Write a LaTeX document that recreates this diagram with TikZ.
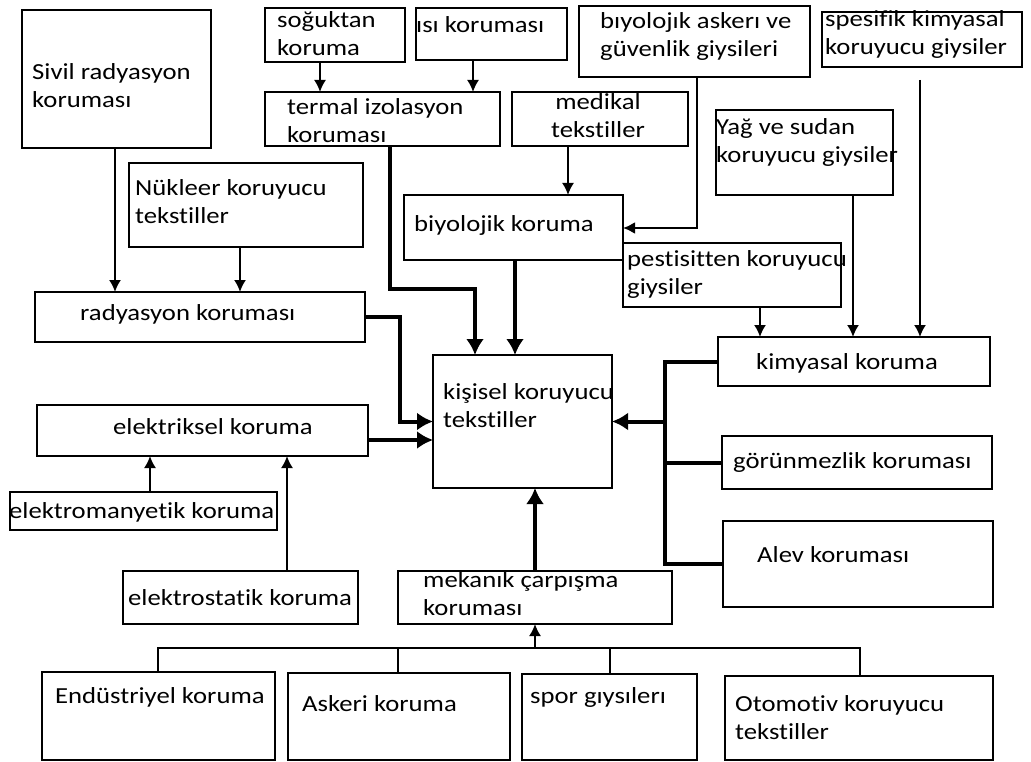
\documentclass[tikz,border=0pt]{standalone}
\usepackage{fontspec}
\setmainfont{Carlito}[FakeStretch=1.16, Ligatures=NoCommon]
\usetikzlibrary{arrows.meta,calc}
\newcommand{\bx}[5]{\node[box, minimum width={(#4-#2)*1pt}, minimum height={(#5-#3)*1pt}] (#1) at (#2,#3) {};}
\begin{document}
\begin{tikzpicture}[x=1pt,y=-1pt,
 box/.style={draw, line width=1.4pt, inner sep=0pt, outer sep=0pt, anchor=north west},
 txt/.style={inner sep=0pt, align=left, anchor=west, font=\fontsize{23}{28}\selectfont},
 arr/.style={line width=1.8pt, -{Latex[length=12pt,width=12pt]}},
 tarr/.style={line width=4pt, -{Latex[length=16pt,width=18pt]}},
 tline/.style={line width=4pt},
 bline/.style={line width=2.5pt}]
\useasboundingbox[fill=white] (0,0) rectangle (1031,762);
% boxes
\bx{sivil}{22}{10}{211}{148}
\bx{sog}{265}{8}{405}{62}
\bx{isi}{416}{8}{567}{60}
\bx{term}{265}{92}{500}{146}
\bx{med}{512}{92}{688}{146}
\bx{bask}{579}{6}{810}{77}
\bx{spes}{822}{12}{1022}{67}
\bx{yag}{716}{110}{893}{195}
\bx{nuk}{129}{163}{363}{247}
\bx{biyk}{404}{195}{623}{260}
\bx{pest}{623}{243}{841}{307}
\bx{rad}{35}{292}{365}{342}
\bx{kis}{433}{355}{612}{488}
\bx{kim}{718}{337}{990}{386}
\bx{gor}{722}{436}{992}{489}
\bx{ale}{723}{521}{993}{607}
\bx{elek}{37}{405}{368}{456}
\bx{em}{10}{492}{277}{530}
\bx{est}{123}{571}{358}{624}
\bx{mek}{398}{571}{672}{624}
\bx{end}{42}{672}{275}{760}
\bx{ask}{288}{673}{510}{760}
\bx{spor}{522}{674}{697}{760}
\bx{oto}{725}{676}{993}{760}
% texts
\node[txt] (tsivil) at (32,86) {Sivil radyasyon\\koruması};
\node[txt] (tsog) at (277,34) {soğuktan\\koruma};
\node[txt] (tisi) at (416,25) {ısı koruması};
\node[txt] (tterm) at (287,121) {termal izolasyon\\koruması};
\node[txt, align=center, anchor=center] (tmed) at (598,116) {medikal\\tekstiller};
\node[txt] (tbask) at (600,36) {bıyolojık askerı ve\\güvenlik giysileri};
\node[txt] (tspes) at (825,34) {spesifik kimyasal\\koruyucu giysiler};
\node[txt] (tyag) at (716,142) {Yağ ve sudan\\koruyucu giysiler};
\node[txt] (tnuk) at (135,202) {Nükleer koruyucu\\tekstiller};
\node[txt] (tbiyk) at (414,225) {biyolojik koruma};
\node[txt] (tpest) at (627,274) {pestisitten koruyucu\\giysiler};
\node[txt] (trad) at (80,314) {radyasyon koruması};
\node[txt] (tkis) at (443,406) {kişisel koruyucu\\tekstiller};
\node[txt] (tkim) at (756,363) {kimyasal koruma};
\node[txt] (tgor) at (733,462) {görünmezlik koruması};
\node[txt] (tale) at (757,555) {Alev koruması};
\node[txt] (telek) at (113,427) {elektriksel koruma};
\node[txt] (tem) at (9,512) {elektromanyetik koruma};
\node[txt] (test) at (128,598) {elektrostatik koruma};
\node[txt] (tmek) at (423,594) {mekanık çarpışma\\koruması};
\node[txt] (tend) at (55,697) {Endüstriyel koruma};
\node[txt] (task) at (302,704) {Askeri koruma};
\node[txt] (tspor) at (530,697) {spor gıysılerı};
\node[txt] (toto) at (735,718) {Otomotiv koruyucu\\tekstiller};
% connectors
\draw[arr] (320,0 |- sog.south) -- (320,0 |- term.north);
\draw[arr] (473,0 |- isi.south) -- (473,0 |- term.north);
\draw[arr] (115,0 |- sivil.south) -- (115,0 |- rad.north);
\draw[arr] (240,0 |- nuk.south) -- (240,0 |- rad.north);
\draw[tarr] (390,0 |- term.south) -- (390,289) -- (475,289) -- (475,0 |- kis.north);
\draw[tarr] (515,0 |- biyk.south) -- (515,0 |- kis.north);
\draw[arr] (568,0 |- med.south) -- (568,0 |- biyk.north);
\draw[arr, line width=2.2pt] (697,0 |- bask.south) -- (697,228) -- (biyk.east |- 0,228);
\draw[arr] (760,0 |- pest.south) -- (760,0 |- kim.north);
\draw[arr] (853,0 |- yag.south) -- (853,0 |- kim.north);
\draw[arr] ($(920,0 |- spes.south)+(0,13)$) -- (920,0 |- kim.north);
\draw[tline] (kim.west) -- (kim.west -| 665,0) -- (ale.west -| 665,0) -- (ale.west);
\draw[tline] (gor.west) -- (gor.west -| 665,0);
\draw[tarr] (kis.east -| 665,0) -- (kis.east);
\draw[tarr] (rad.east) -- (rad.east -| 400,0) -- (400,0 |- kis.west) -- (kis.west);
\draw[tarr] (elek.east |- 0,440) -- (kis.west |- 0,440);
\draw[arr] (150,0 |- em.north) -- (150,0 |- elek.south);
\draw[arr] (287,0 |- est.north) -- (287,0 |- elek.south);
\draw[tarr] (535,0 |- mek.north) -- (535,0 |- kis.south);
\draw[bline] (158,0 |- end.north) -- (158,648) -- (860,648) -- (860,0 |- oto.north);
\draw[bline] (398,648) -- (398,0 |- ask.north);
\draw[bline] (610,648) -- (610,0 |- spor.north);
\draw[arr] (535,648) -- (535,0 |- mek.south);
\end{tikzpicture}
\end{document}
